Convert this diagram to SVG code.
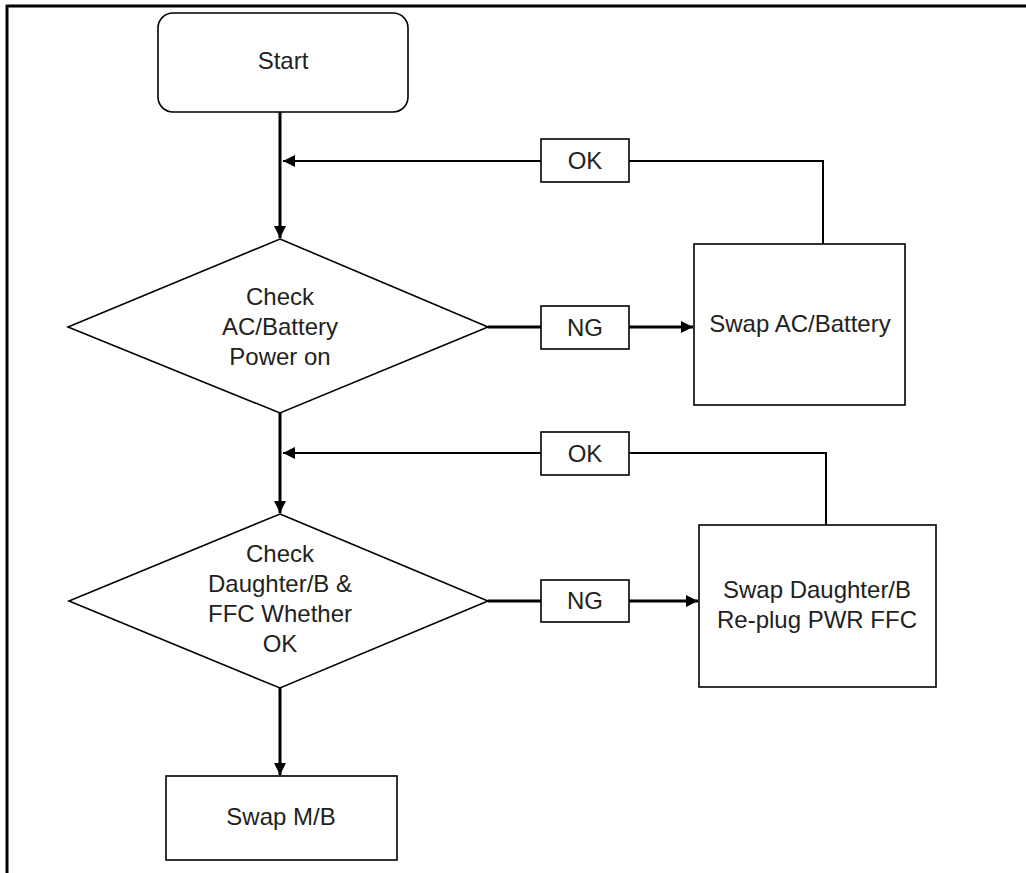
<svg xmlns="http://www.w3.org/2000/svg" width="1026" height="873" viewBox="0 0 1026 873">
<style>
.shape{fill:#fff;stroke:#000;stroke-width:1.6}
.t{font-family:"Liberation Sans",Arial,sans-serif;font-size:24px;fill:#231f20;text-anchor:middle}
.thick{stroke:#000;stroke-width:3;fill:none}
.thin{stroke:#000;stroke-width:2;fill:none}
</style>
<defs>
<marker id="ah" viewBox="0 0 12 12" refX="12" refY="6" markerWidth="12" markerHeight="12" markerUnits="userSpaceOnUse" orient="auto">
<path d="M0,0 L12,6 L0,12 Z" fill="#000"/>
</marker>
</defs>
<rect width="1026" height="873" fill="#fff"/>
<g id="frame">
<path d="M6,6 H1026" stroke="#000" stroke-width="3"/>
<path d="M7,5 V873" stroke="#000" stroke-width="3"/>
</g>
<g id="connectors">
<path class="thick" d="M280,112 V238" marker-end="url(#ah)"/>
<path class="thin" d="M541,161 H283" marker-end="url(#ah)"/>
<path class="thin" d="M629,161 H823 V244"/>
<path class="thick" d="M488,327 H541"/>
<path class="thick" d="M629,327 H693" marker-end="url(#ah)"/>
<path class="thick" d="M280,413 V513" marker-end="url(#ah)"/>
<path class="thin" d="M541,453 H283" marker-end="url(#ah)"/>
<path class="thin" d="M629,453 H826 V525"/>
<path class="thick" d="M488,601 H541"/>
<path class="thick" d="M629,601 H698" marker-end="url(#ah)"/>
<path class="thick" d="M280,688 V775" marker-end="url(#ah)"/>
</g>
<g id="start">
<rect class="shape" x="158" y="13" width="250" height="99" rx="15"/>
<text class="t" x="283" y="69">Start</text>
</g>
<g id="check1">
<path class="shape" d="M280,239 L488,327 L280,413 L68,327 Z"/>
<text class="t" x="280" y="305">Check</text>
<text class="t" x="280" y="335">AC/Battery</text>
<text class="t" x="280" y="365">Power on</text>
</g>
<g id="ok1">
<rect class="shape" x="541" y="139" width="88" height="43"/>
<text class="t" x="585" y="169">OK</text>
</g>
<g id="ng1">
<rect class="shape" x="541" y="306" width="88" height="43"/>
<text class="t" x="585" y="336">NG</text>
</g>
<g id="swap-ac">
<rect class="shape" x="694" y="244" width="211" height="161"/>
<text class="t" x="800" y="332">Swap AC/Battery</text>
</g>
<g id="check2">
<path class="shape" d="M280,514 L488,601 L280,688 L69,601 Z"/>
<text class="t" x="280" y="562">Check</text>
<text class="t" x="280" y="592">Daughter/B &amp;</text>
<text class="t" x="280" y="622">FFC Whether</text>
<text class="t" x="280" y="652">OK</text>
</g>
<g id="ok2">
<rect class="shape" x="541" y="432" width="88" height="43"/>
<text class="t" x="585" y="462">OK</text>
</g>
<g id="ng2">
<rect class="shape" x="541" y="580" width="88" height="42"/>
<text class="t" x="585" y="609">NG</text>
</g>
<g id="swap-db">
<rect class="shape" x="699" y="525" width="237" height="162"/>
<text class="t" x="817" y="598">Swap Daughter/B</text>
<text class="t" x="817" y="628">Re-plug PWR FFC</text>
</g>
<g id="swap-mb">
<rect class="shape" x="166" y="776" width="231" height="84"/>
<text class="t" x="281" y="825">Swap M/B</text>
</g>
</svg>
